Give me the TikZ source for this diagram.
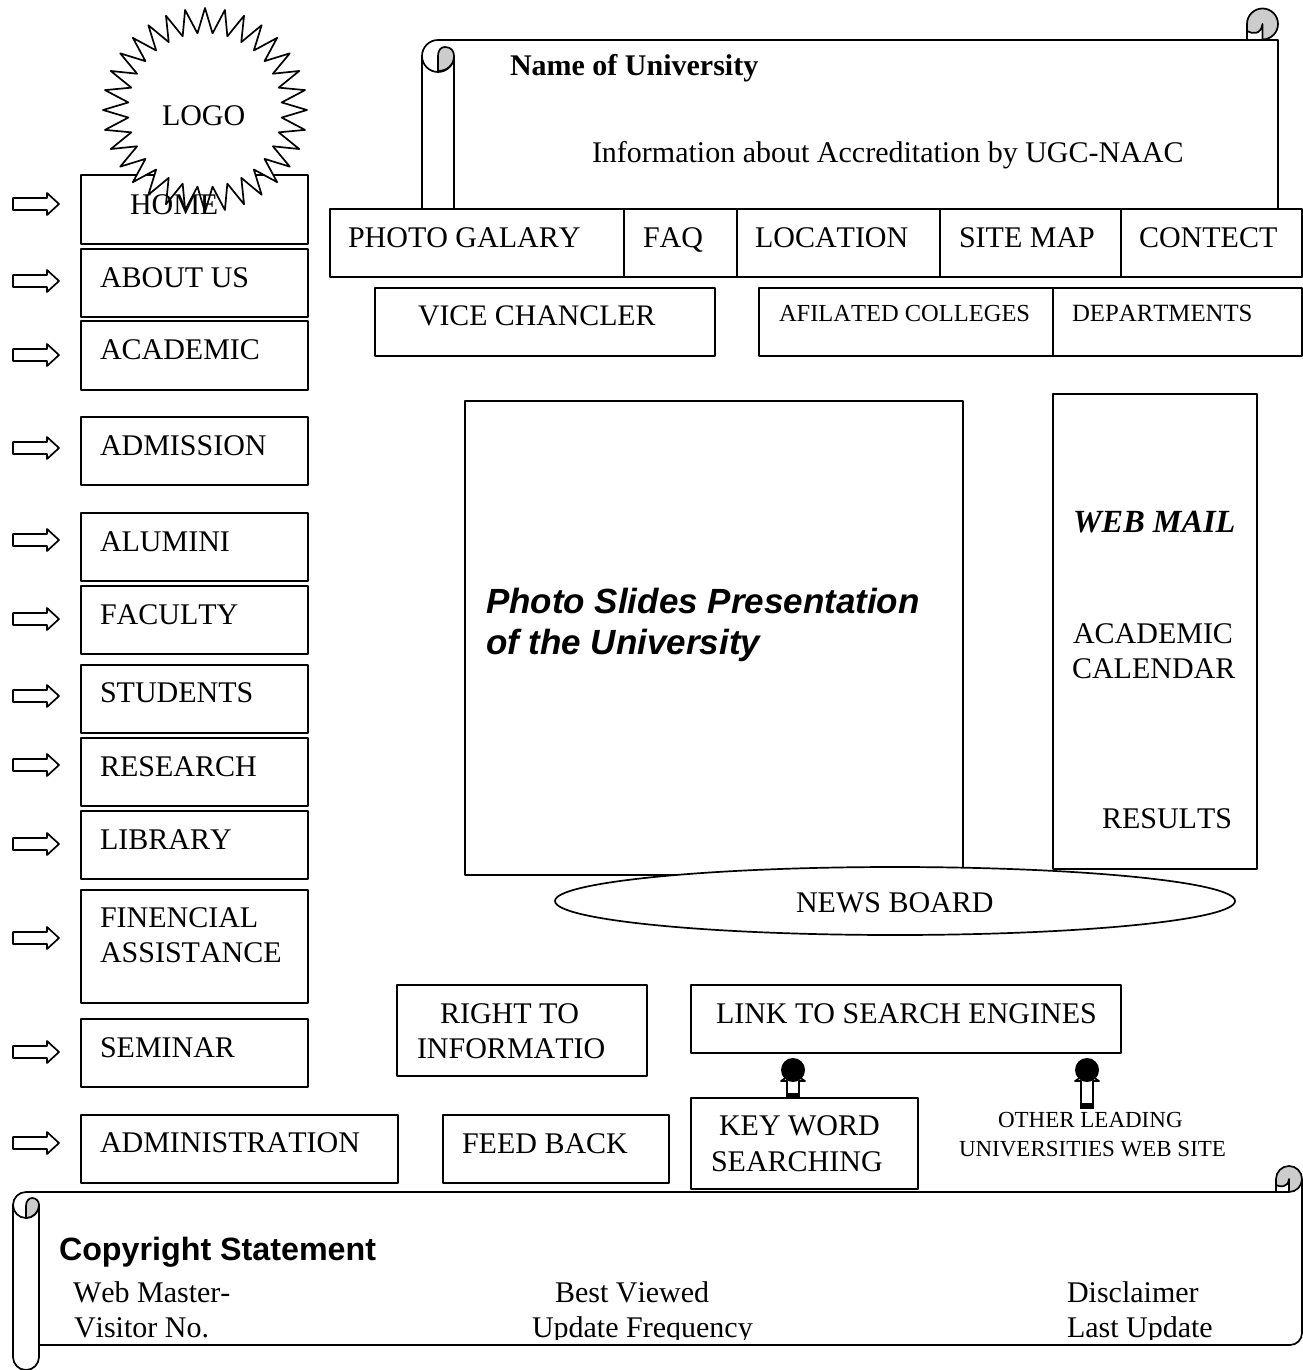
\documentclass[tikz,border=0pt]{standalone}
\usepackage{fontspec}
\setmainfont[Kerning=Off]{Liberation Serif}
\newfontfamily\arialfont[Kerning=Off]{Liberation Sans}
\definecolor{curl}{gray}{0.8}
\tikzset{
  outl/.style={draw=black,line width=1.7pt,line join=round},
  boxw/.style={outl,fill=white},
  lbl/.style={anchor=base west,inner sep=0pt,outer sep=0pt,font=\fontsize{30}{35}\selectfont,align=left},
  lblsmall/.style={lbl,font=\fontsize{24.5}{30}\selectfont},
  lbltiny/.style={lbl,font=\fontsize{23}{29}\selectfont},
  blockarrow/.pic={\draw[outl,fill=white] (-23,-6)--(11,-6)--(11,-11)--(23,0)--(11,11)--(11,6)--(-23,6)--cycle;},
  pics/uparrow/.style={code={
    \draw[outl,fill=white] (-6,#1)--(-6,11)--(-12,11)--(0,3)--(12,11)--(6,11)--(6,#1)--cycle;
    \fill[black] (-6.8,#1-5) rectangle (6.8,#1+0.8);
    \fill[black] (0,0) circle[radius=12];
  }},
}
\begin{document}
\begin{tikzpicture}[x=1pt,y=-1pt]
\useasboundingbox (0,0) rectangle (1302,1370);
% top scroll
\draw[outl,fill=white] (422,209)--(422,56) arc[start angle=-180,end angle=-90,radius=16]--(1278,40)--(1278,209);
\draw[outl,fill=white] (422,56) arc[start angle=-180,end angle=-360,radius=16]--(454,209)--(422,209)--cycle;
\draw[outl,fill=curl] (438,71) -- (438,56) .. controls (438,50) and (441,47) .. (445,47) .. controls (451,47) and (454,51) .. (454,56) .. controls (454,65) and (447,71) .. (438,71) -- cycle;
\draw[outl,fill=curl] (1262.5,39.5) arc[start angle=90,end angle=0,radius=15.5] arc[start angle=0,end angle=-180,radius=15.5] -- (1247,31) .. controls (1252,34) and (1261,35) .. (1262.5,24) -- cycle;
\draw[outl] (1247,31)--(1247,40);
% nav boxes
\draw[boxw] (81,175) rectangle (308,244);
\draw[boxw] (81,249) rectangle (308,317);
\draw[boxw] (81,321) rectangle (308,390);
\draw[boxw] (81,417) rectangle (308,485);
\draw[boxw] (81,513) rectangle (308,581);
\draw[boxw] (81,586) rectangle (308,654);
\draw[boxw] (81,665) rectangle (308,733);
\draw[boxw] (81,738) rectangle (308,806);
\draw[boxw] (81,811) rectangle (308,879);
\draw[boxw] (81,890) rectangle (308,1003);
\draw[boxw] (81,1019) rectangle (308,1087);
\draw[boxw] (81,1115) rectangle (398,1183);
% logo
\draw[outl,fill=white] plot[samples at={0,...,63},variable=\k] ({205+(mod(\k,2)==0?102:77)*sin(\k*5.625)},{110-(mod(\k,2)==0?102:77)*cos(\k*5.625)}) -- cycle;
\node[lbl] (logo) at (162,125) {LOGO};
% nav text
\node[lbl] (home) at (130,214) {HOME};
\node[lbl] (about) at (100,287) {ABOUT US};
\node[lbl] (academic) at (100,359) {ACADEMIC};
\node[lbl] (admission) at (100,455) {ADMISSION};
\node[lbl] (alumini) at (100,551) {ALUMINI};
\node[lbl] (faculty) at (100,624) {FACULTY};
\node[lbl] (students) at (100,702) {STUDENTS};
\node[lbl] (research) at (100,776) {RESEARCH};
\node[lbl] (library) at (100,849) {LIBRARY};
\node[lbl] (finencial) at (100,962) {FINENCIAL\\ASSISTANCE};
\node[lbl] (seminar) at (100,1057) {SEMINAR};
\node[lbl] (administration) at (100,1152) {ADMINISTRATION};
% arrows
\foreach \yy in {204,281,355,448,540,619,696,765,844,938,1052,1143}
  \pic at (36,\yy) {blockarrow};
% top bar
\draw[boxw] (330,209) rectangle (1302,277);
\foreach \xx in {624,737,940,1121} \draw[outl] (\xx,209)--(\xx,277);
\node[lbl] (photogal) at (348,247) {PHOTO GALARY};
\node[lbl] (faq) at (643,247) {FAQ};
\node[lbl] (location) at (755,247) {LOCATION};
\node[lbl] (sitemap) at (959,247) {SITE MAP};
\node[lbl] (contect) at (1139,247) {CONTECT};
% second row
\draw[boxw] (375,288) rectangle (715,356);
\draw[boxw] (759,288) rectangle (1053,356);
\draw[boxw] (1053,288) rectangle (1302,356);
\node[lbl,font=\fontsize{29.8}{35}\selectfont] (vice) at (418,325) {VICE CHANCLER};
\node[lblsmall] (afilated) at (779,321) {AFILATED COLLEGES};
\node[lblsmall,font=\fontsize{24.8}{30}\selectfont] (departments) at (1072,321) {DEPARTMENTS};
% header text
\node[lbl,font=\fontsize{30}{35}\selectfont\bfseries] (uni) at (510,76) {Name of University};
\node[lbl] (info) at (592,162) {Information about Accreditation by UGC-NAAC};
% centre
\draw[boxw] (465,401) rectangle (963,875);
\draw[boxw] (1053,394) rectangle (1257,869);
\node[lbl,font=\fontsize{35}{41}\selectfont\arialfont\bfseries\itshape] (slides) at (486,654) {Photo Slides Presentation\\of the University};
\node[lbl,font=\fontsize{32.3}{35}\selectfont\bfseries\itshape] (webmail) at (1073,532) {WEB MAIL};
\node[lbl] (calendar) at (1072,678) {\hspace{1pt}ACADEMIC\\CALENDAR};
\node[lbl] (results) at (1102,828) {RESULTS};
\draw[boxw] (895,901) ellipse[x radius=340,y radius=34];
\node[lbl] (newstext) at (796,912) {NEWS BOARD};
% lower boxes
\draw[boxw] (397,985) rectangle (647,1076);
\draw[boxw] (691,985) rectangle (1121,1053);
\draw[boxw] (443,1115) rectangle (669,1183);
\draw[boxw] (691,1098) rectangle (918,1189);
\node[lbl] (right) at (417,1058) {\hspace{23pt}RIGHT TO\\INFORMATIO};
\node[lbl] (link) at (716,1023) {LINK TO SEARCH ENGINES};
\node[lbl] (feed) at (462,1153) {FEED BACK};
\node[lbl,font=\fontsize{30}{36}\selectfont] (key) at (711,1171) {\hspace{8pt}KEY WORD\\SEARCHING};
\pic at (793,1070) {uparrow=28};
\pic at (1087,1070) {uparrow=38};
\node[lbltiny] (other) at (959,1156) {\hspace{39pt}OTHER LEADING\\UNIVERSITIES WEB SITE};
% bottom scroll
\draw[outl] (39,1345)--(1290,1345) arc[start angle=-270,end angle=-360,radius=12] -- (1302,1179);
\draw[outl] (26,1192)--(1289,1192);
\draw[outl,fill=white] (13,1205) arc[start angle=-180,end angle=-360,radius=13] -- (39,1357) arc[start angle=0,end angle=180,radius=13] -- cycle;
\draw[outl] (13,1205) arc[start angle=-180,end angle=-90,radius=13];
\draw[outl,fill=curl] (26,1218) -- (26,1206) .. controls (26,1201) and (29,1198) .. (32,1198) .. controls (36,1198) and (39,1201) .. (39,1205) .. controls (39,1212) and (33,1218) .. (26,1218) -- cycle;
\draw[outl,fill=curl] (1289,1192) arc[start angle=90,end angle=0,radius=13] arc[start angle=0,end angle=-180,radius=13] -- (1276,1185) .. controls (1280,1187) and (1288,1188) .. (1289,1179) -- cycle;
\draw[outl] (1276,1185)--(1276,1192);
\node[lbl,font=\fontsize{32.25}{35}\selectfont\arialfont\bfseries] (copyright) at (59,1260) {Copyright Statement};
\node[lbl] (webmaster) at (73,1302) {Web Master-};
\node[lbl] (best) at (555,1302) {Best Viewed};
\node[lbl] (disclaimer) at (1067,1302) {Disclaimer};
\begin{scope}
\clip (0,1310) rectangle (1302,1339);
\node[lbl] (visitor) at (74,1337) {Visitor No.};
\node[lbl] (update) at (532,1337) {Update Frequency};
\node[lbl] (last) at (1067,1337) {Last Update};
\end{scope}
\end{tikzpicture}
\end{document}
